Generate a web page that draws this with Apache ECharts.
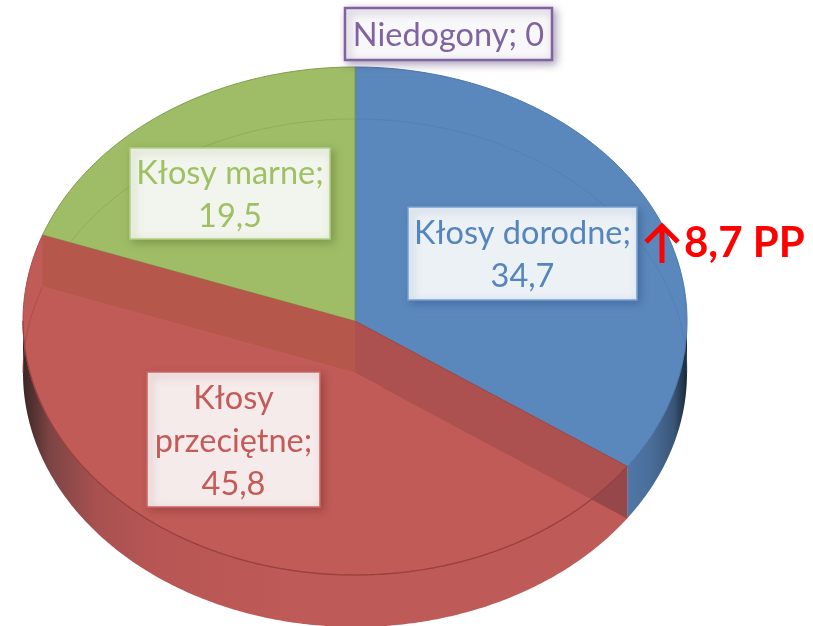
<!DOCTYPE html>
<html>
<head>
<meta charset="utf-8">
<style>html,body{margin:0;padding:0;background:#fff}#c{width:813px;height:626px}</style>
<script src="https://cdn.jsdelivr.net/npm/echarts@6/dist/echarts.min.js"></script>
</head>
<body>
<div id="c"></div>
<script>
const categories = ['Kłosy dorodne', 'Kłosy przeciętne', 'Kłosy marne', 'Niedogony'];
const values = [34.7, 45.8, 19.5, 0];
const valueLabels = ['34,7', '45,8', '19,5', '0'];
const changeNote = '8,7 PP';

const labelLines = [
  [categories[0] + ';', valueLabels[0]],
  ['Kłosy', 'przeciętne;', valueLabels[1]],
  [categories[2] + ';', valueLabels[2]],
  [categories[3] + '; ' + valueLabels[3]]
];
const topColors = ['#5b88bc', '#c05b58', '#9fbc66', '#8064a2'];
const edgeColors = ['#4a76aa', '#a84a48', '#7f9c4c', '#8064a2'];
const textColors = ['#5585bd', '#c45b58', '#9fc063', '#8064a2'];
const boxFills = ['#ecf1f6', '#f5ebeb', '#f2f5ed', '#f8f7f9'];
const boxes = [[408, 207, 229, 93], [147, 372, 173, 135], [130, 148, 200, 91], [345, 8, 207, 52]];
const boxBorders = ['#74a0d2', '#cc6663', '#b5d084', '#8064a2'];
const boxShadows = ['rgba(50,85,135,0.5)', 'rgba(130,50,50,0.5)', 'rgba(90,120,50,0.5)', 'rgba(80,60,110,0.45)'];

const G = { cx: 355, cy: 321, rx: 332, ry: 254, d: 52 };
const FONT = 'Lato, Carlito, "Open Sans", sans-serif';
const total = values.reduce((a, b) => a + b, 0);
const rad = v => v / total * Math.PI * 2;
function slice(i) {
  let s = 0;
  for (let k = 0; k < i; k++) s += rad(values[k]);
  return [s, s + rad(values[i])];
}
const pt = (a, dy) => [G.cx + G.rx * Math.sin(a), G.cy + (dy || 0) - G.ry * Math.cos(a)];
function arc(a0, a1, dy) {
  const n = Math.max(2, Math.ceil(Math.abs(a1 - a0) / 0.01));
  const out = [];
  for (let i = 0; i <= n; i++) out.push(pt(a0 + (a1 - a0) * i / n, dy));
  return out;
}
const grad = (stops) => new echarts.graphic.LinearGradient(G.cx - G.rx, 0, G.cx + G.rx, 0, stops, true);
const wallFill = [
  grad([{offset:0,color:'#5b88bc'},{offset:0.9,color:'#5079ab'},{offset:0.945,color:'#4a6e9a'},{offset:0.98,color:'#3a5678'},{offset:1,color:'#1a2837'}]),
  grad([{offset:0,color:'#3c2626'},{offset:0.04,color:'#7c4444'},{offset:0.11,color:'#a85150'},{offset:0.2,color:'#b75654'},{offset:0.4,color:'#be5a57'},{offset:1,color:'#be5a57'}])
];

function renderWall(params, api) {
  const i = api.value(0), r = slice(i);
  const a0 = Math.max(r[0], Math.PI / 2), a1 = Math.min(r[1], Math.PI * 1.5);
  if (a1 <= a0) return { type: 'group', children: [] };
  const pts = arc(a0, a1, 0).concat(arc(a1, a0, G.d));
  return { type: 'polygon', shape: { points: pts }, style: { fill: wallFill[i] || topColors[i] } };
}

function renderTop(params, api) {
  const i = api.value(0), r = slice(i);
  if (r[1] <= r[0]) return { type: 'group', children: [] };
  const pts = [[G.cx, G.cy]].concat(arc(r[0], r[1], 0));
  const kids = [{ type: 'polygon', shape: { points: pts }, style: { fill: topColors[i], stroke: edgeColors[i], lineWidth: 1 } }];
  const spans = [[r[0], Math.min(r[1], Math.PI / 2)], [Math.max(r[0], Math.PI * 1.5), r[1]]];
  spans.forEach(sp => {
    if (sp[1] > sp[0]) kids.push({ type: 'polyline', shape: { points: arc(sp[0], sp[1], G.d) },
      style: { fill: null, stroke: edgeColors[i], lineWidth: 1, opacity: 0.45 } });
  });
  return { type: 'group', children: kids };
}

function renderFaces(params, api) {
  const i = api.value(0), r = slice(i);
  if (!(r[0] < Math.PI && r[1] > Math.PI)) return { type: 'group', children: [] };
  const s = pt(r[0], 0), e = pt(r[1], 0);
  const c0 = [G.cx, G.cy], c1 = [G.cx, G.cy + G.d];
  const kids = [];
  kids.push({ type: 'polygon', shape: { points: [e, c0, c1, [e[0], e[1] + G.d]] }, style: { fill: '#b5574a' } });
  kids.push({ type: 'polygon', shape: { points: [c0, s, [s[0], s[1] + G.d], c1] }, style: { fill: 'rgba(0,0,0,0.1)' } });
  const below = p => p[1] - c1[1] - (s[1] - G.cy) / (s[0] - G.cx) * (p[0] - c1[0]);
  const tri = [];
  for (let a = r[0]; a < r[1]; a += 0.004) {
    const p = pt(a, 0);
    if (below(p) > 0) break;
    tri.push(p);
  }
  tri.push([s[0], s[1] + G.d]);
  kids.push({ type: 'polygon', shape: { points: tri }, style: { fill: '#95474a' } });
  kids.push({ type: 'polyline', shape: { points: arc(r[0], Math.min(r[1], Math.PI * 1.5), 0) },
    style: { fill: null, stroke: '#98403e', lineWidth: 1.2 } });
  kids.push({ type: 'polyline', shape: { points: [[e[0], e[1] + G.d], c1, [c1[0] + (s[0]-G.cx) * 0.1, c1[1] + (s[1]-G.cy) * 0.1]] },
    style: { fill: null, stroke: '#c9605c', lineWidth: 1, opacity: 0.7 } });
  kids.push({ type: 'polyline', shape: { points: arc(Math.PI * 1.5, r[1], G.d) },
    style: { fill: null, stroke: '#a84a48', lineWidth: 1, opacity: 0.45 } });
  return { type: 'group', children: kids };
}

function renderLabel(params, api) {
  const i = api.value(0), b = boxes[i], lines = labelLines[i];
  const h = 43, top = b[1] + b[3] / 2 - h * lines.length / 2 + 2;
  const kids = [{
    type: 'rect', shape: { x: b[0], y: b[1], width: b[2], height: b[3] },
    style: { fill: boxFills[i], stroke: boxBorders[i], lineWidth: i === 3 ? 2.5 : 1.5,
      shadowBlur: 8, shadowOffsetX: 3, shadowOffsetY: 3, shadowColor: boxShadows[i] }
  }];
  lines.forEach((t, k) => kids.push({
    type: 'text', style: { text: t, x: b[0] + b[2] / 2, y: top + h * k + h / 2, align: 'center', verticalAlign: 'middle',
      fill: textColors[i], font: '32.5px ' + FONT }
  }));
  return { type: 'group', children: kids };
}

const rows = categories.map((c, i) => [i, values[i]]);
const layer = (name, fn, z) => ({ type: 'custom', name, coordinateSystem: 'none', renderItem: fn, data: rows, z, silent: true, animation: false });

const chart = echarts.init(document.getElementById('c'), null, { width: 813, height: 626 });
chart.setOption({
  animation: false,
  backgroundColor: '#fff',
  series: [
    layer('walls', renderWall, 1),
    layer('tops', renderTop, 2),
    layer('faces', renderFaces, 3),
    layer('labels', renderLabel, 4)
  ],
  graphic: [
    { type: 'polyline', z: 10, shape: { points: [[662, 263], [662, 226]] }, style: { fill: null, stroke: '#ff0000', lineWidth: 5 } },
    { type: 'polyline', z: 10, shape: { points: [[646, 242], [662, 226], [678, 242]] }, style: { fill: null, stroke: '#ff0000', lineWidth: 5 } },
    { type: 'text', z: 10, style: { text: changeNote, x: 684, y: 243, verticalAlign: 'middle', fill: '#ff0000', font: 'bold 42px ' + FONT } }
  ]
});
</script>
</body>
</html>
